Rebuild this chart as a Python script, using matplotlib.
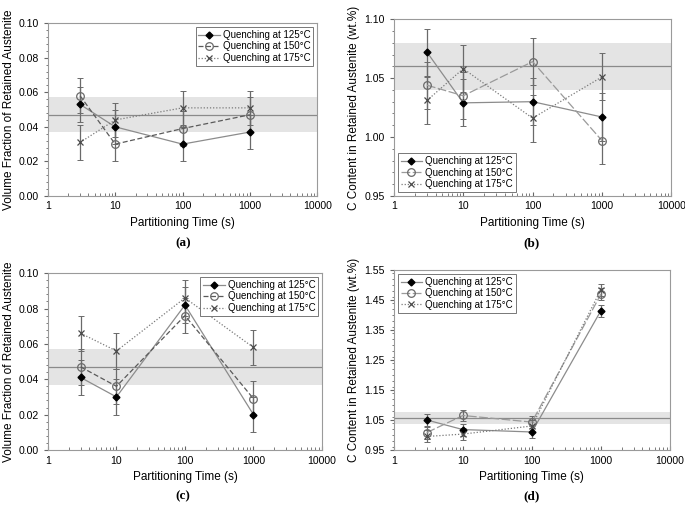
import matplotlib
matplotlib.use("Agg")
import matplotlib.pyplot as plt
from matplotlib.ticker import FixedLocator, NullFormatter, LogLocator, MultipleLocator

plt.rcParams['font.family'] = ['Liberation Sans', 'DejaVu Sans']

times = [3, 10, 100, 1000]
labels = ["Quenching at 125°C", "Quenching at 150°C", "Quenching at 175°C"]

# panel (a): volume fraction
a_125 = [0.053, 0.040, 0.030, 0.037]
a_150 = [0.058, 0.030, 0.039, 0.047]
a_175 = [0.031, 0.044, 0.051, 0.051]
a_err = 0.010
# panel (b): C content
b_125 = [1.072, 1.029, 1.030, 1.017]
b_150 = [1.044, 1.035, 1.064, 0.997]
b_175 = [1.031, 1.058, 1.016, 1.051]
b_err = 0.020
# panel (c): volume fraction
c_125 = [0.041, 0.030, 0.082, 0.020]
c_150 = [0.047, 0.036, 0.076, 0.029]
c_175 = [0.066, 0.056, 0.086, 0.058]
c_err = 0.010
# panel (d): C content
d_125 = [1.050, 1.018, 1.010, 1.415]
d_150 = [1.008, 1.065, 1.043, 1.470]
d_175 = [0.995, 1.003, 1.030, 1.485]
d_err = 0.020

vf_band = (0.037, 0.047, 0.057)
c_band_b = (1.040, 1.060, 1.080)
c_band_d = (1.038, 1.057, 1.077)

fig = plt.figure(figsize=(6.85, 5.05), dpi=100)

rects = {
    'a': [0.070, 0.612, 0.393, 0.342],
    'b': [0.575, 0.612, 0.405, 0.350],
    'c': [0.070, 0.109, 0.400, 0.350],
    'd': [0.575, 0.109, 0.403, 0.356],
}

def draw(key, s125, s150, s175, err, band, ylim, yticks, yfmt, ylabel, legloc, dash150):
    ax = fig.add_axes(rects[key])
    ax.set_xscale('log')
    ax.set_xlim(1, 10000)
    ax.set_ylim(*ylim)
    ax.axhspan(band[0], band[2], color='#e4e4e4', zorder=0, lw=0)
    ax.axhline(band[1], color='#8a8a8a', lw=0.9, zorder=1)
    ekw = dict(fmt='none', ecolor='#6a6a6a', elinewidth=0.9, capsize=2, capthick=0.7, zorder=2)
    for s in (s125, s150, s175):
        ax.errorbar(times, s, yerr=err, **ekw)
    ax.plot(times, s125, color='#8c8c8c', lw=0.9, ls='-',
            marker='D', ms=3.5, mfc='black', mec='black', label=labels[0], zorder=3)
    ax.plot(times, s150, color='#5a5a5a' if dash150 == 'dash' else '#9a9a9a',
            lw=0.9, ls=(0, (4, 2)) if dash150 == 'dash' else (0, (7, 2)),
            marker='o', ms=5.5, mfc='none', mec='#6a6a6a', mew=0.9, label=labels[1], zorder=3)
    ax.plot(times, s175, color='#7a7a7a', lw=0.9, ls=(0, (1, 1.5)),
            marker='x', ms=5, mec='#4a4a4a', mew=0.9, label=labels[2], zorder=3)
    ax.set_yticks(yticks)
    ax.set_yticklabels([yfmt.format(v) for v in yticks])
    ax.yaxis.set_minor_locator(MultipleLocator((yticks[1] - yticks[0]) / 5))
    ax.xaxis.set_major_locator(FixedLocator([1, 10, 100, 1000, 10000]))
    ax.set_xticklabels(['1', '10', '100', '1000', '10000'])
    ax.xaxis.set_minor_locator(LogLocator(base=10, subs=range(2, 10)))
    ax.xaxis.set_minor_formatter(NullFormatter())
    ax.tick_params(axis='x', which='both', direction='in', colors='#666666', labelcolor='black',
                   labelsize=7.6, length=3, pad=4)
    ax.tick_params(axis='x', which='minor', length=2)
    ax.tick_params(axis='y', which='both', direction='out', colors='#666666', labelcolor='black',
                   labelsize=7.6, length=3)
    ax.tick_params(axis='y', which='minor', length=1.5)
    for sp in ax.spines.values():
        sp.set_color('#9a9a9a')
        sp.set_linewidth(0.8)
    ax.set_xlabel('Partitioning Time (s)', fontsize=8.5, labelpad=4)
    ax.set_ylabel(ylabel, fontsize=8.5, labelpad=3)
    leg = ax.legend(loc=legloc, fontsize=7, handlelength=2.2, handletextpad=0.3,
                    borderpad=0.3, labelspacing=0.15, fancybox=False, framealpha=1,
                    edgecolor='#777777', borderaxespad=0.4)
    leg.get_frame().set_linewidth(0.7)
    return ax

vf_ticks = [0.00, 0.02, 0.04, 0.06, 0.08, 0.10]
ax_a = draw('a', a_125, a_150, a_175, a_err, vf_band, (0, 0.10), vf_ticks, '{:.2f}',
            'Volume Fraction of Retained Austenite', 'upper right', 'dash')
ax_b = draw('b', b_125, b_150, b_175, b_err, c_band_b, (0.95, 1.10), [0.95, 1.00, 1.05, 1.10], '{:.2f}',
            'C Content in Retained Austenite (wt.%)', 'lower left', 'long')
ax_c = draw('c', c_125, c_150, c_175, c_err, vf_band, (0, 0.10), vf_ticks, '{:.2f}',
            'Volume Fraction of Retained Austenite', 'upper right', 'dash')
ax_d = draw('d', d_125, d_150, d_175, d_err, c_band_d, (0.95, 1.55),
            [0.95, 1.05, 1.15, 1.25, 1.35, 1.45, 1.55], '{:.2f}',
            'C Content in Retained Austenite (wt.%)', 'upper left', 'long')

cap_kw = dict(ha='center', va='center', fontsize=9.5, fontweight='bold', family=['Liberation Serif', 'DejaVu Serif'])
fig.text(183 / 685, 1 - 243 / 505, '(a)', **cap_kw)
fig.text(532 / 685, 1 - 243 / 505, '(b)', **cap_kw)
fig.text(183 / 685, 1 - 496 / 505, '(c)', **cap_kw)
fig.text(532 / 685, 1 - 496 / 505, '(d)', **cap_kw)

fig.savefig('out.png', dpi=100)
